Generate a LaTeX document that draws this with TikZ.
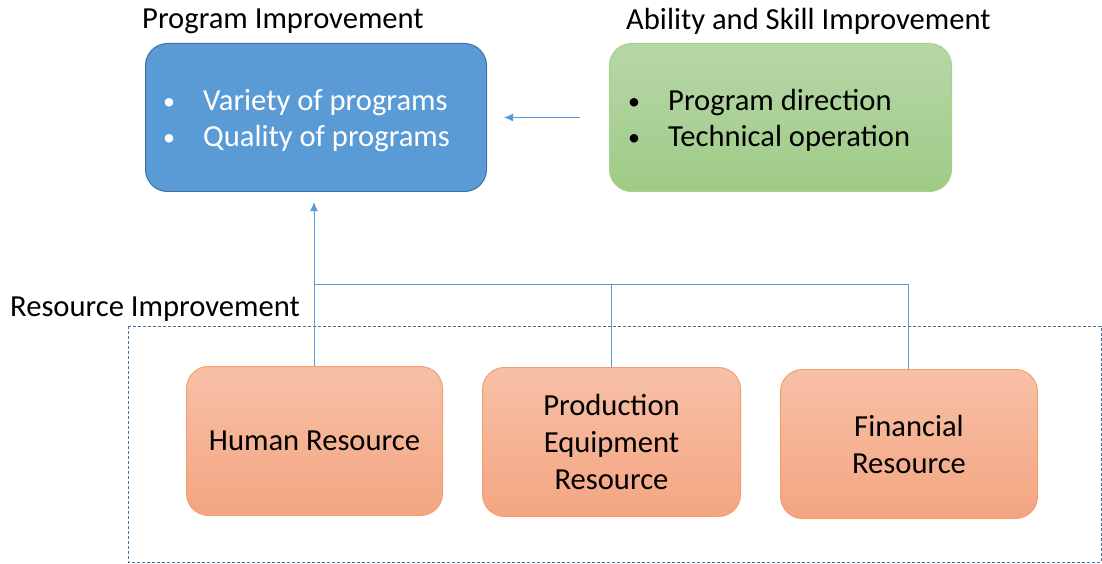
\documentclass[tikz,border=0pt]{standalone}
\usepackage{fontspec}
\setmainfont{Carlito}
\usetikzlibrary{arrows.meta}
\definecolor{bluefill}{HTML}{5B9BD5}
\definecolor{blueline}{HTML}{41719C}
\definecolor{greentop}{HTML}{B7D7A8}
\definecolor{greenbot}{HTML}{9FCB86}
\definecolor{greenline}{HTML}{A9D18E}
\definecolor{orangetop}{HTML}{F7C0A6}
\definecolor{orangebot}{HTML}{F4A582}
\definecolor{orangeline}{HTML}{F4A06E}
\definecolor{connector}{HTML}{5B9BD5}
\begin{document}
\begin{tikzpicture}[x=1pt,y=-1pt,
  lbl/.style={font=\fontsize{30.6}{36}\selectfont,inner sep=0pt},
  bul/.style={font=\fontsize{24}{36}\selectfont,inner sep=0pt},
  boxtxt/.style={font=\fontsize{30.6}{37}\selectfont,inner sep=0pt,align=center},
  roundbox/.style={rounded corners=22pt,line width=1pt},
  conn/.style={draw=connector,line width=0.9pt},
  arr/.style={conn,-{Latex[length=9pt,width=8pt]}}
]
\useasboundingbox (0,0) rectangle (1102,564);
% boxes
\node[roundbox,draw=blueline,fill=bluefill,minimum width=341pt,minimum height=148pt,anchor=north west] (prog) at (145,43) {};
\node[roundbox,draw=greenline,top color=greentop,bottom color=greenbot,minimum width=342pt,minimum height=148pt,anchor=north west] (abil) at (609,43) {};
\node[roundbox,draw=orangeline,top color=orangetop,bottom color=orangebot,minimum width=256pt,minimum height=149pt,anchor=north west] (human) at (186,366) {};
\node[roundbox,draw=orangeline,top color=orangetop,bottom color=orangebot,minimum width=258pt,minimum height=149pt,anchor=north west] (equip) at (482,367) {};
\node[roundbox,draw=orangeline,top color=orangetop,bottom color=orangebot,minimum width=257pt,minimum height=149pt,anchor=north west] (fin) at (780,369) {};
% dashed group
\draw[blueline,line width=0.9pt,dash pattern=on 3pt off 2pt] (128,326) rectangle (1101,562);
% labels
\node[lbl,anchor=base west] (lprog) at (142,29) {Program Improvement};
\node[lbl,anchor=base west] (labil) at (626,30) {Ability and Skill Improvement};
\node[lbl,anchor=base west] (lres) at (10,316) {Resource Improvement};
% box texts
\node[bul,text=white,anchor=base] (pb1) at (169,110) {•};
\node[lbl,text=white,anchor=base west] (pt1) at (203,111) {Variety of programs};
\node[bul,text=white,anchor=base] (pb2) at (169,146) {•};
\node[lbl,text=white,anchor=base west] (pt2) at (203,147) {Quality of programs};
\node[bul,anchor=base] (ab1) at (634,110) {•};
\node[lbl,anchor=base west] (at1) at (668,111) {Program direction};
\node[bul,anchor=base] (ab2) at (634,146) {•};
\node[lbl,anchor=base west] (at2) at (668,147) {Technical operation};
\node[boxtxt] (htxt) at (human.center) {Human Resource};
\node[boxtxt] (etxt) at (equip.center) {Production\\Equipment\\Resource};
\node[boxtxt] (ftxt) at (fin.center) {Financial\\Resource};
% connectors
\coordinate (j1) at (314,284);
\coordinate (j2) at (611,284);
\coordinate (j3) at (908,284);
\draw[conn] (human.north -| j1) -- (j1);
\draw[arr,shorten >=10pt] (j1) -- (prog.south -| j1);
\draw[conn] (equip.north -| j2) -- (j2);
\draw[conn] (fin.north -| j3) -- (j3) -- (j1);
\draw[arr,shorten <=29pt,shorten >=17pt] (abil.west) -- (prog.east);
\end{tikzpicture}
\end{document}
